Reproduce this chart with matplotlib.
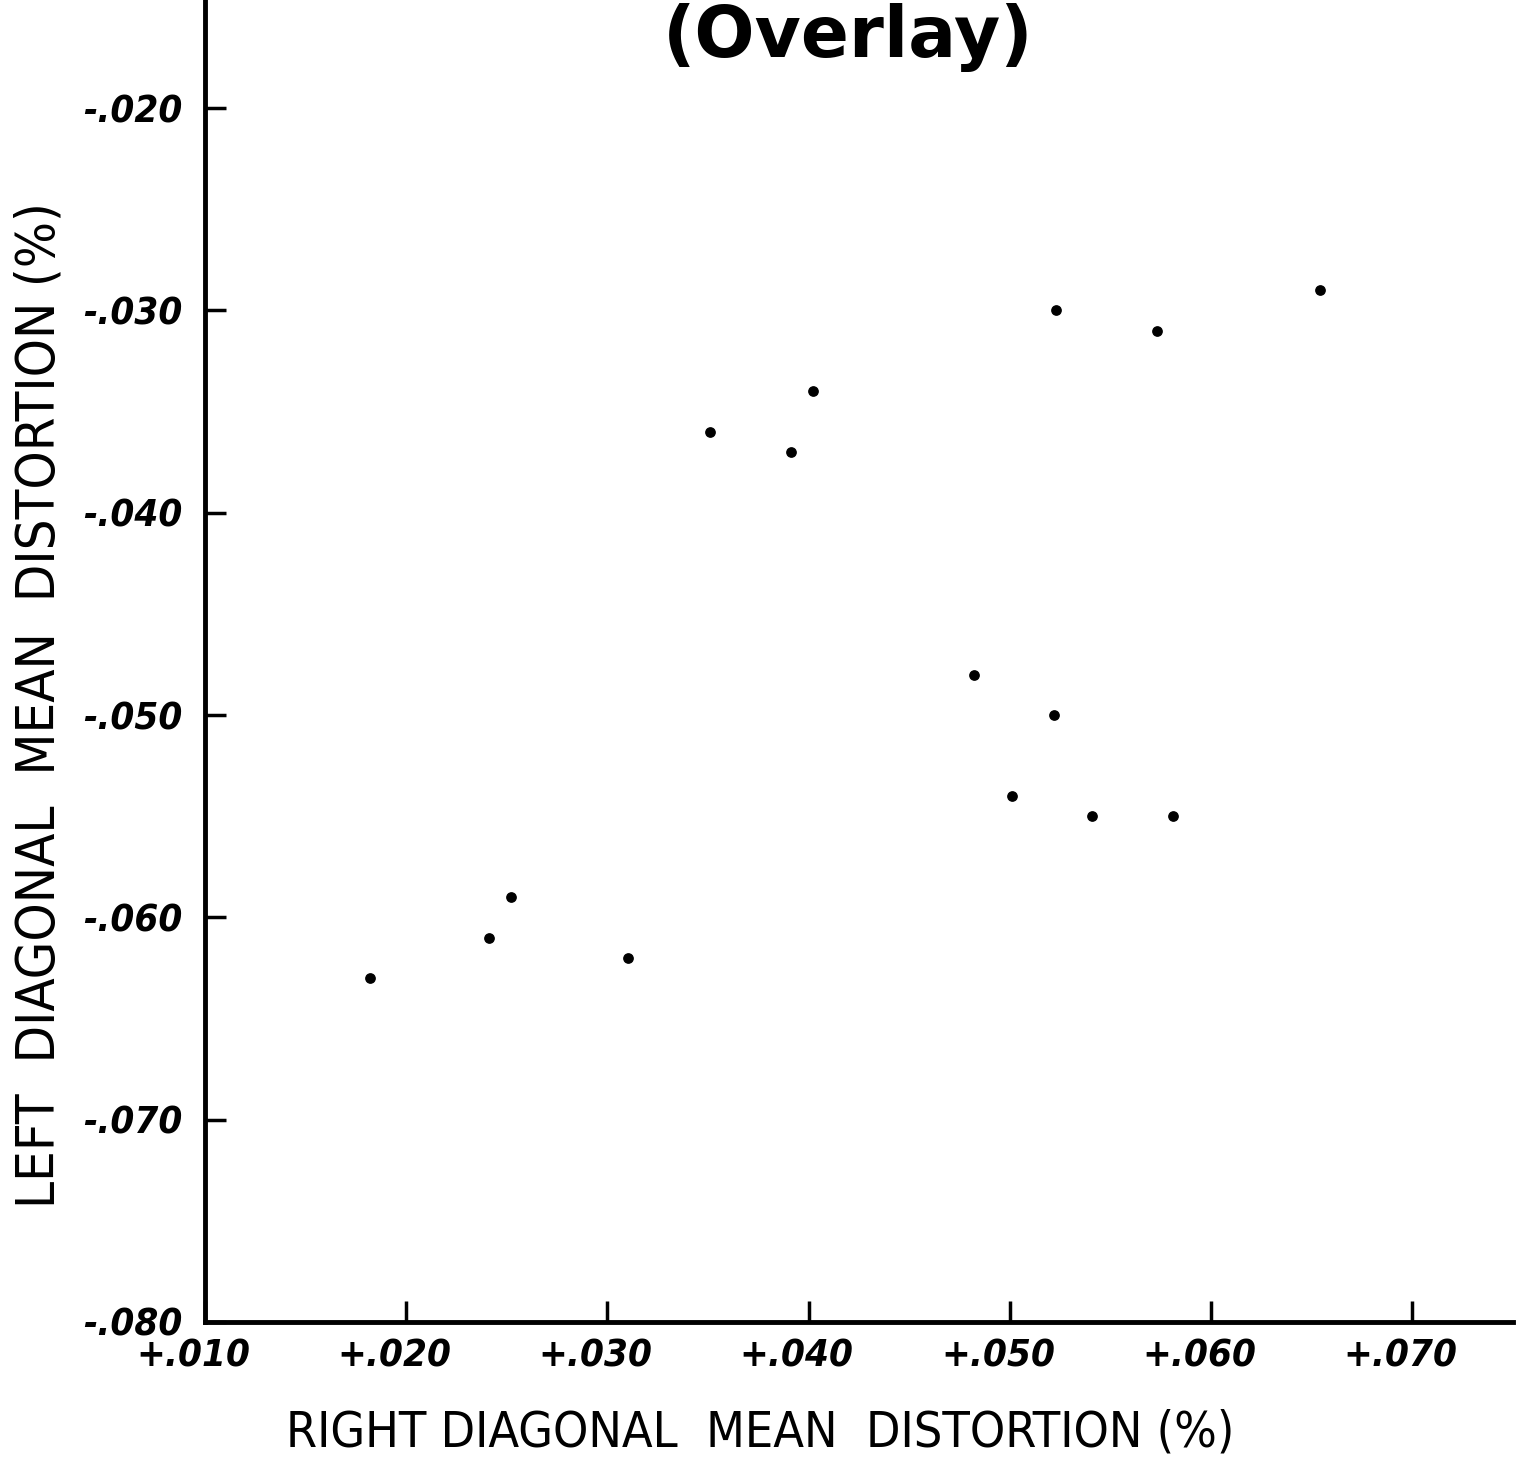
import matplotlib
matplotlib.use("Agg")
import matplotlib.pyplot as plt
from matplotlib.transforms import ScaledTranslation

# Right vs. left diagonal mean distortion (percent)
right_diag = [0.0182, 0.0241, 0.0252, 0.0310, 0.0351, 0.0391, 0.0402, 0.0482,
              0.0501, 0.0522, 0.0523, 0.0541, 0.0573, 0.0581, 0.0654]
left_diag = [-0.063, -0.061, -0.059, -0.062, -0.036, -0.037, -0.034, -0.048,
             -0.054, -0.050, -0.030, -0.055, -0.031, -0.055, -0.029]

x_ticks = [0.010, 0.020, 0.030, 0.040, 0.050, 0.060, 0.070]
x_tick_labels = ["+.010", "+.020", "+.030", "+.040", "+.050", "+.060", "+.070"]
y_ticks = [-0.020, -0.030, -0.040, -0.050, -0.060, -0.070, -0.080]
y_tick_labels = ["-.020", "-.030", "-.040", "-.050", "-.060", "-.070", "-.080"]

title_text = "(Overlay)"
x_label = "RIGHT DIAGONAL  MEAN  DISTORTION (%)"
y_label = "LEFT  DIAGONAL  MEAN  DISTORTION (%)"

fig = plt.figure(figsize=(15.23, 14.71), dpi=100)
ax = fig.add_axes([0.1346, 0.1013, 0.8588, 0.8987])

ax.scatter(right_diag, left_diag, s=45, color="black", zorder=3)

ax.set_xlim(0.010, 0.0750)
ax.set_ylim(-0.080, -0.01466)

for side in ("top", "right"):
    ax.spines[side].set_visible(False)
for side in ("left", "bottom"):
    ax.spines[side].set_linewidth(3.5)

tick_font = dict(family="DejaVu Sans", fontweight="bold", fontstyle="oblique",
                 fontstretch="condensed", fontsize=27.5)
ax.set_xticks(x_ticks)
ax.set_xticklabels(x_tick_labels, **tick_font)
ax.set_yticks(y_ticks)
ax.set_yticklabels(y_tick_labels, **tick_font)
ax.tick_params(axis="both", direction="in", length=15, width=2.5)
ax.tick_params(axis="x", pad=12)
ax.tick_params(axis="y", pad=16)

# hand-lettered x tick labels sit slightly left of their ticks
shift = ScaledTranslation(-12 / 100, 0, fig.dpi_scale_trans)
for lbl in ax.get_xticklabels():
    lbl.set_transform(lbl.get_transform() + shift)

label_font = dict(family="DejaVu Sans", fontstretch="condensed")
ax.set_xlabel(x_label, fontsize=36, **label_font)
ax.set_ylabel(y_label, fontsize=39, **label_font)
ax.xaxis.set_label_coords(0.4243, -0.0655)
ax.yaxis.set_label_coords(-0.1063, 0.4667)

fig.text(0.557, 1 - 57 / 1471, title_text, ha="center", va="baseline",
         family="DejaVu Sans", fontsize=51, fontweight="bold")

fig.savefig("out.png", dpi=100, facecolor="white")
